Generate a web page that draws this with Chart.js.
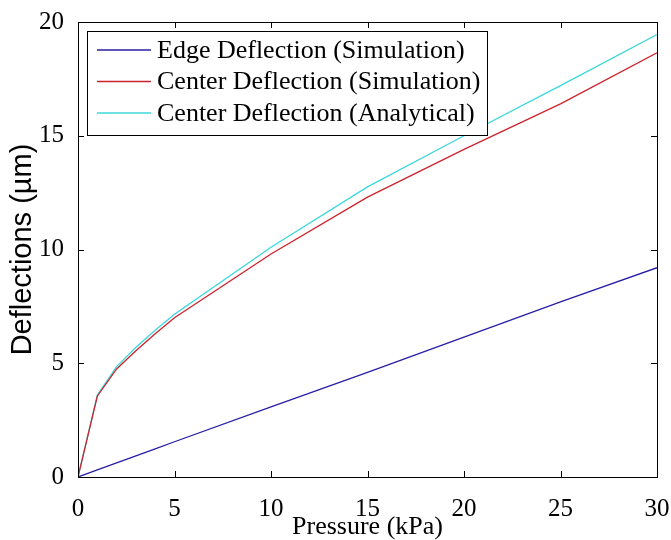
<!DOCTYPE html>
<html>
<head>
<meta charset="utf-8">
<script src="https://cdn.jsdelivr.net/npm/chart.js@4.4.1/dist/chart.umd.min.js"></script>
<style>
	html, body { margin: 0; padding: 0; background: #fff; }
	#wrap { width: 671px; height: 540px; }
</style>
</head>
<body>
<div id="wrap"><canvas id="myChart" width="671" height="540"></canvas></div>
<script>
const pressure = [0, 1, 2, 3, 4, 5, 10, 15, 20, 25, 30];
const edgeSim = [0, 0.31, 0.62, 0.93, 1.24, 1.55, 3.08, 4.6, 6.15, 7.7, 9.2];
const centerSim = [0, 3.55, 4.75, 5.55, 6.3, 7.0, 9.8, 12.3, 14.4, 16.4, 18.65];
const centerAna = [0, 3.6, 4.85, 5.7, 6.45, 7.15, 10.1, 12.75, 15.0, 17.2, 19.45];
const seriesLabels = [
	'Edge Deflection (Simulation)',
	'Center Deflection (Simulation)',
	'Center Deflection (Analytical)',
];
const xTicks = [0, 5, 10, 15, 20, 25, 30];
const yTicks = [0, 5, 10, 15, 20];

function pts(ys) {
	return pressure.map(function (p, i) {
		return { x: p, y: ys[i] };
	});
}

// box round the axes, inward ticks and the legend inside the plot
const matlabAxes = {
	id: 'matlabAxes',
	afterDatasetsDraw(chart) {
		const ctx = chart.ctx;
		const a = chart.chartArea;
		const xs = chart.scales.x;
		const ys = chart.scales.y;
		ctx.save();
		ctx.strokeStyle = '#000';
		ctx.lineWidth = 1;
		ctx.strokeRect(a.left + 0.5, a.top + 0.5, a.right - a.left, a.bottom - a.top);
		ctx.beginPath();
		xTicks.forEach(function (t) {
			const px = Math.round(xs.getPixelForValue(t)) + 0.5;
			ctx.moveTo(px, a.bottom);
			ctx.lineTo(px, a.bottom - 6);
			ctx.moveTo(px, a.top);
			ctx.lineTo(px, a.top + 6);
		});
		yTicks.forEach(function (t) {
			const py = Math.round(ys.getPixelForValue(t)) + 0.5;
			ctx.moveTo(a.left, py);
			ctx.lineTo(a.left + 6, py);
			ctx.moveTo(a.right, py);
			ctx.lineTo(a.right - 6, py);
		});
		ctx.stroke();

		// legend
		const bx = 87, by = 31, bw = 400, bh = 104;
		ctx.fillStyle = '#fff';
		ctx.fillRect(bx, by, bw, bh);
		ctx.strokeRect(bx + 0.5, by + 0.5, bw, bh);
		ctx.font = "26px 'Liberation Serif'";
		ctx.textBaseline = 'middle';
		chart.data.datasets.forEach(function (ds, i) {
			const y = by + 19 + i * 31.5;
			ctx.strokeStyle = ds.borderColor;
			ctx.lineWidth = 1.3;
			ctx.beginPath();
			ctx.moveTo(97, y);
			ctx.lineTo(151, y);
			ctx.stroke();
			ctx.fillStyle = '#000';
			ctx.fillText(ds.label, 157, y + 1);
		});
		ctx.restore();
	},
};

const data = {
	datasets: [
		{
			label: seriesLabels[0],
			data: pts(edgeSim),
			borderColor: 'rgb(40, 30, 165)',
		},
		{
			label: seriesLabels[1],
			data: pts(centerSim),
			borderColor: 'rgb(205, 35, 45)',
		},
		{
			label: seriesLabels[2],
			data: pts(centerAna),
			borderColor: 'rgb(60, 215, 220)',
		},
	],
};
data.datasets.forEach(function (ds) {
	ds.borderWidth = 1.3;
	ds.pointRadius = 0;
	ds.tension = 0;
	ds.fill = false;
});

const config = {
	type: 'line',
	data: data,
	options: {
		responsive: false,
		animation: false,
		devicePixelRatio: 1,
		layout: { padding: { top: 22, right: 14, left: 0, bottom: 0 } },
		plugins: {
			legend: { display: false },
			tooltip: { enabled: false },
		},
		scales: {
			x: {
				type: 'linear',
				min: 0,
				max: 30,
				afterBuildTicks: function (s) {
					s.ticks = xTicks.map(function (v) { return { value: v }; });
				},
				afterFit: function (s) {
					s.height = 63;
					s.paddingLeft = 0;
					s.paddingRight = 0;
				},
				grid: { display: false },
				border: { display: false },
				ticks: {
					color: '#000',
					padding: 9,
					maxRotation: 0,
					font: { family: 'Liberation Serif', size: 25 },
				},
				title: {
					display: true,
					text: 'Pressure (kPa)',
					color: '#000',
					padding: { top: 0, bottom: 0 },
					font: { family: 'Liberation Serif', size: 26, lineHeight: 1.0 },
				},
			},
			y: {
				type: 'linear',
				min: 0,
				max: 20,
				afterBuildTicks: function (s) {
					s.ticks = yTicks.map(function (v) { return { value: v }; });
				},
				afterFit: function (s) {
					s.width = 78;
					s.paddingTop = 0;
					s.paddingBottom = 0;
				},
				grid: { display: false },
				border: { display: false },
				ticks: {
					color: '#000',
					padding: 6,
					font: { family: 'Liberation Serif', size: 25 },
				},
				title: {
					display: true,
					text: 'Deflections (\u00b5m)',
					color: '#000',
					padding: { top: 6, bottom: 0 },
					font: { family: 'Liberation Sans', size: 29, lineHeight: 1.2 },
				},
			},
		},
	},
	plugins: [matlabAxes],
};

const myChart = new Chart(document.getElementById('myChart'), config);
</script>
</body>
</html>
